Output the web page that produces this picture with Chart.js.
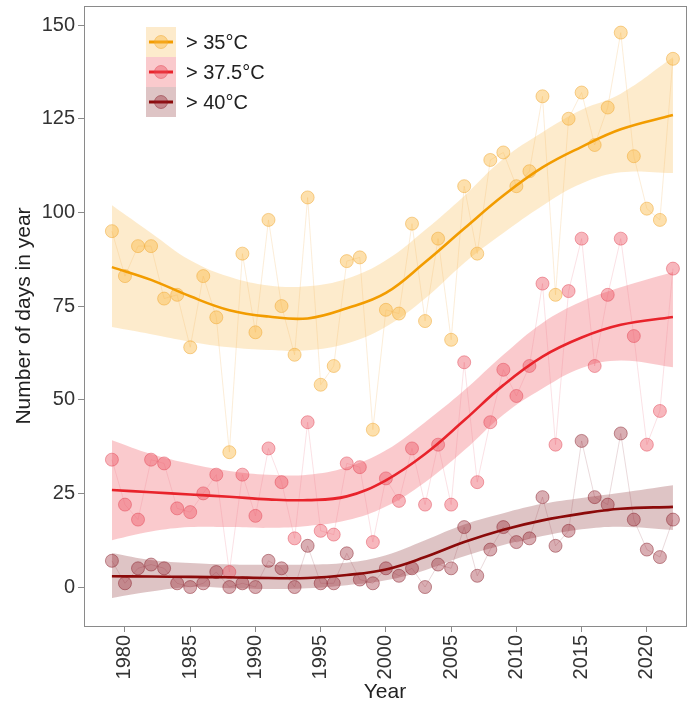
<!DOCTYPE html>
<html>
<head>
<meta charset="utf-8">
<script src="https://cdn.jsdelivr.net/npm/chart.js@4/dist/chart.umd.min.js"></script>
<style>
  body { margin: 0; background: #fff; }
  #wrap { width: 688px; height: 708px; }
</style>
</head>
<body>
<div id="wrap"><canvas id="chart" width="688" height="708"></canvas></div>
<script>
// yearly counts
const years = [1979, 1980, 1981, 1982, 1983, 1984, 1985, 1986, 1987, 1988, 1989,
  1990, 1991, 1992, 1993, 1994, 1995, 1996, 1997, 1998, 1999, 2000, 2001, 2002,
  2003, 2004, 2005, 2006, 2007, 2008, 2009, 2010, 2011, 2012, 2013, 2014, 2015,
  2016, 2017, 2018, 2019, 2020, 2021, 2022];
const days35 = [95, 83, 91, 91, 77, 78, 64, 83, 72, 36, 89, 68, 98, 75, 62, 104,
  54, 59, 87, 88, 42, 74, 73, 97, 71, 93, 66, 107, 89, 114, 116, 107, 111, 131,
  78, 125, 132, 118, 128, 148, 115, 101, 98, 141];
const days375 = [34, 22, 18, 34, 33, 21, 20, 25, 30, 4, 30, 19, 37, 28, 13, 44,
  15, 14, 33, 32, 12, 29, 23, 37, 22, 38, 22, 60, 28, 44, 58, 51, 59, 81, 38, 79,
  93, 59, 78, 93, 67, 38, 47, 85];
const days40 = [7, 1, 5, 6, 5, 1, 0, 1, 4, 0, 1, 0, 7, 5, 0, 11, 1, 1, 9, 2, 1,
  5, 3, 5, 0, 6, 5, 16, 3, 10, 16, 12, 13, 24, 11, 15, 39, 24, 22, 41, 18, 10, 8, 18];

// smoothed trend + confidence band, read at these years
const trendYears = [1979, 1982, 1985, 1988, 1991, 1994, 1997, 2000, 2003, 2006,
  2009, 2012, 2015, 2018, 2022];
const fit35 = [85.4, 82, 77.6, 73.9, 72.2, 71.7, 74.4, 78.5, 86.7, 95.7, 104.5,
  112, 117.5, 122.2, 126];
const hi35 = [101.9, 94.5, 87.2, 82.8, 80.5, 80.3, 82.3, 87.2, 95.3, 104.4, 114.3,
  121.4, 127.4, 131.7, 141.4];
const lo35 = [69.4, 67.5, 65.5, 64, 63.3, 63.2, 65, 69.5, 77, 86.5, 94.5, 101.8,
  107.7, 110.7, 110.5];
const fit375 = [25.9, 25.3, 24.7, 24.1, 23.4, 23.2, 24.2, 28.5, 35.5, 44.5, 53.9,
  61.5, 66.6, 70, 72.1];
const hi375 = [39.2, 35.5, 32.9, 31, 30, 30, 32, 36.5, 44, 52.5, 62, 70.5, 76.2,
  80, 84.1];
const lo375 = [12.5, 14.8, 16, 16, 15.8, 16.3, 17.8, 21.5, 28, 36.5, 46, 53, 58.5,
  60.5, 58.7];
const fit40 = [2.9, 2.8, 2.7, 2.6, 2.4, 2.4, 3.2, 4.7, 8, 12, 15.3, 17.8, 19.6,
  20.9, 21.4];
const hi40 = [9.1, 7.2, 6.4, 6, 5.9, 6, 6.5, 8.5, 12.5, 16.7, 19.7, 22.2, 23.8,
  25.2, 27.2];
const lo40 = [-2.9, -1.2, 0, -0.3, -0.5, -0.3, 0.5, 1.8, 4.5, 8.2, 11.2, 13.6,
  15.4, 16.1, 15.2];

const xTicks = [1980, 1985, 1990, 1995, 2000, 2005, 2010, 2015, 2020];
const yTicks = [0, 25, 50, 75, 100, 125, 150];
const seriesNames = ['> 35°C', '> 37.5°C', '> 40°C'];

const FONT = '"Liberation Sans", Arial, Helvetica, sans-serif';

const styles = [
  { line: '#F29C00', band: 'rgba(250,190,85,0.3)', pt: 'rgba(250,180,60,0.42)', ptBorder: 'rgba(240,168,50,0.5)', thin: 'rgba(245,185,100,0.25)' },
  { line: '#E8232B', band: 'rgba(236,60,72,0.27)', pt: 'rgba(236,75,90,0.4)', ptBorder: 'rgba(225,65,80,0.45)', thin: 'rgba(235,120,135,0.22)' },
  { line: '#8B0A0A', band: 'rgba(125,20,25,0.25)', pt: 'rgba(150,30,45,0.36)', ptBorder: 'rgba(130,25,35,0.45)', thin: 'rgba(150,70,80,0.2)' }
];

function pairs(xs, ys) {
  return xs.map((x, i) => ({ x: x, y: ys[i] }));
}

const obs = [days35, days375, days40];
const fits = [fit35, fit375, fit40];
const his = [hi35, hi375, hi40];
const los = [lo35, lo375, lo40];

const datasets = [];
for (let s = 0; s < 3; s++) {
  const st = styles[s];
  // band (upper then lower filled to previous)
  datasets.push({
    data: pairs(trendYears, his[s]), borderWidth: 0, pointRadius: 0,
    tension: 0.4, fill: false, order: 30
  });
  datasets.push({
    data: pairs(trendYears, los[s]), borderWidth: 0, pointRadius: 0,
    tension: 0.4, fill: '-1', backgroundColor: st.band, order: 30
  });
  // observations
  datasets.push({
    data: pairs(years, obs[s]), showLine: true, borderColor: st.thin, borderWidth: 1,
    pointRadius: 6.5, pointBackgroundColor: st.pt, pointBorderColor: st.ptBorder,
    pointBorderWidth: 1, tension: 0, fill: false, order: 20
  });
  // trend
  datasets.push({
    data: pairs(trendYears, fits[s]), borderColor: st.line, borderWidth: 2.6,
    pointRadius: 0, tension: 0.4, fill: false, order: 10
  });
}

const frame = {
  id: 'frame',
  afterDraw(chart) {
    const a = chart.chartArea;
    const c = chart.ctx;
    c.save();
    c.strokeStyle = '#8a8a8a';
    c.lineWidth = 1;
    c.strokeRect(Math.round(a.left) + 0.5, Math.round(a.top) + 0.5,
      Math.round(a.right - a.left), Math.round(a.bottom - a.top));
    c.restore();
  }
};

const keyBox = {
  id: 'keyBox',
  afterDraw(chart) {
    const c = chart.ctx;
    const x0 = 146, w = 30, y0 = 27, h = 30;
    c.save();
    for (let s = 0; s < 3; s++) {
      const st = styles[s];
      const top = y0 + s * h, cy = top + h / 2;
      c.fillStyle = st.band;
      c.fillRect(x0, top, w, h);
      c.strokeStyle = st.line;
      c.lineWidth = 3;
      c.beginPath();
      c.moveTo(x0 + 3, cy);
      c.lineTo(x0 + w - 3, cy);
      c.stroke();
      c.beginPath();
      c.arc(x0 + w / 2, cy, 6.5, 0, Math.PI * 2);
      c.fillStyle = st.pt;
      c.fill();
      c.strokeStyle = st.ptBorder;
      c.lineWidth = 1;
      c.stroke();
      c.fillStyle = '#222';
      c.font = '20px ' + FONT;
      c.textBaseline = 'middle';
      c.fillText(seriesNames[s], 186, cy + 1);
    }
    c.restore();
  }
};

const ctx = document.getElementById('chart').getContext('2d');
const chart = new Chart(ctx, {
  type: 'line',
  data: { datasets: datasets },
  options: {
    responsive: false,
    animation: false,
    layout: { autoPadding: false, padding: { top: 6, right: 2, left: 0, bottom: 0 } },
    plugins: { legend: { display: false }, tooltip: { enabled: false } },
    scales: {
      x: {
        type: 'linear', min: 1976.86, max: 2023.0,
        afterBuildTicks: s => { s.ticks = xTicks.map(v => ({ value: v })); },
        afterFit: s => { s.height = 82; s.paddingLeft = 0; s.paddingRight = 0; },
        ticks: {
          font: { family: FONT, size: 20 }, color: '#333',
          minRotation: 90, maxRotation: 90, padding: 3,
          callback: v => String(v)
        },
        grid: { drawOnChartArea: false, drawTicks: true, tickLength: 6, color: '#8a8a8a' },
        border: { display: true, color: '#8a8a8a' },
        title: {
          display: true, text: 'Year', color: '#222',
          font: { family: FONT, size: 21 }, padding: { top: 0, bottom: 3 }
        }
      },
      y: {
        type: 'linear', min: -10.4, max: 155.1,
        afterBuildTicks: s => { s.ticks = yTicks.map(v => ({ value: v })); },
        afterFit: s => { s.width = 84; s.paddingTop = 0; s.paddingBottom = 0; },
        ticks: {
          font: { family: FONT, size: 20 }, color: '#333', padding: 3,
          callback: v => String(v)
        },
        grid: { drawOnChartArea: false, drawTicks: true, tickLength: 6, color: '#8a8a8a' },
        border: { display: true, color: '#8a8a8a' },
        title: {
          display: true, text: 'Number of days in year', color: '#222',
          font: { family: FONT, size: 21 }, padding: { top: 12, bottom: 0 }
        }
      }
    }
  },
  plugins: [frame, keyBox]
});
</script>
</body>
</html>
